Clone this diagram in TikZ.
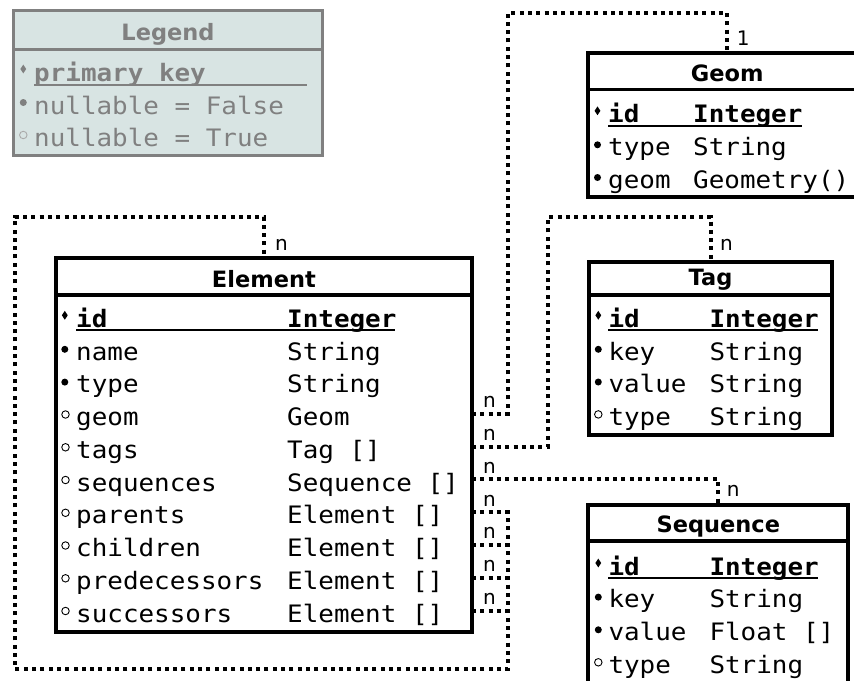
\documentclass[tikz,border=0pt]{standalone}
\usepackage{fontspec}
\usetikzlibrary{shapes.geometric}
\newfontfamily\monof[FakeStretch=1.08]{DejaVu Sans Mono}
\newfontfamily\sansf{DejaVu Sans}
\newcommand\rowtext{\monof\fontsize{24}{28}\selectfont}
\newcommand\headtext{\sansf\bfseries\fontsize{22.5}{27}\selectfont}
\newcommand\cardtext{\sansf\fontsize{20}{24}\selectfont}
\definecolor{legendgray}{RGB}{128,128,128}
\definecolor{legendlight}{RGB}{170,170,170}
\definecolor{legendfill}{RGB}{216,228,227}

\begin{document}
\begin{tikzpicture}[x=1pt,y=-1pt,
  frame/.style={draw, line width=4pt, inner sep=0pt, outer sep=0pt},
  divider/.style={line width=3.5pt},
  keyline/.style={line width=1.8pt},
  fk/.style={line width=4pt, dash pattern=on 4pt off 4.3pt},
  cell/.style={anchor=base west, inner sep=0pt, font=\rowtext},
  keycell/.style={cell, font=\rowtext\bfseries},
  head/.style={anchor=base, inner sep=0pt, font=\headtext},
  card/.style={anchor=base west, inner sep=0pt, font=\cardtext},
  pkmark/.style={diamond, fill, inner sep=0pt, minimum width=6pt, minimum height=9pt},
  reqmark/.style={circle, fill, inner sep=0pt, minimum size=7pt},
  optmark/.style={circle, draw, line width=0.9pt, inner sep=0pt, minimum size=7.5pt},
]
\useasboundingbox (0,0) rectangle (854,680);

% ---------------- Legend ----------------
\node[frame, draw=legendgray, line width=3.5pt, fill=legendfill,
      minimum width=309.4pt, minimum height=145pt] (legend) at (168,83.2) {};
\draw[divider, legendgray] (legend.west |- 0,49.5) -- (legend.east |- 0,49.5);
\node[head, text=legendgray] (lg-title) at (168,40) {Legend};
\node[pkmark, legendgray] (lg-pk) at (23.3,69) {};
\node[keycell, text=legendgray] (lg-pk-t) at (34,81.5) {primary key};
\draw[keyline, legendgray] (34,85) -- (307,85);
\node[reqmark, legendgray] (lg-req) at (23.3,102.5) {};
\node[cell, text=legendgray] (lg-req-t) at (34,114) {nullable = False};
\node[optmark, legendlight] (lg-opt) at (23.3,135) {};
\node[cell, text=legendgray] (lg-opt-t) at (34,146.5) {nullable = True};

% ---------------- Geom ----------------
\node[frame, minimum width=277.7pt, minimum height=144pt] (geom) at (727.15,124.7) {};
\draw[divider] (geom.west |- 0,89.3) -- (geom.east |- 0,89.3);
\node[head] (geom-title) at (727.15,81) {Geom};
\node[pkmark] (geom-m1) at (597.5,110.8) {};
\node[keycell] (geom-id) at (608,122.8) {id};
\node[keycell] (geom-id-t) at (693,122.8) {Integer};
\draw[keyline] (608,126) -- (801.7,126);
\node[reqmark] (geom-m2) at (597.5,144.8) {};
\node[cell] (geom-type) at (608,155.5) {type};
\node[cell] (geom-type-t) at (693,155.5) {String};
\node[reqmark] (geom-m3) at (597.5,177.5) {};
\node[cell] (geom-geom) at (608,188.2) {geom};
\node[cell] (geom-geom-t) at (693,188.2) {Geometry()};

% ---------------- Tag ----------------
\node[frame, minimum width=242.4pt, minimum height=173.5pt] (tag) at (710.5,348.5) {};
\draw[divider] (tag.west |- 0,295) -- (tag.east |- 0,295);
\node[head] (tag-title) at (710.5,285.5) {Tag};
\node[pkmark] (tag-m1) at (598.3,315.3) {};
\node[keycell] (tag-id) at (608.3,327.3) {id};
\node[keycell] (tag-id-t) at (709.3,327.3) {Integer};
\draw[keyline] (608.3,330.3) -- (817.7,330.3);
\node[reqmark] (tag-m2) at (598.3,349.3) {};
\node[cell] (tag-key) at (608.3,360) {key};
\node[cell] (tag-key-t) at (709.3,360) {String};
\node[reqmark] (tag-m3) at (598.3,382) {};
\node[cell] (tag-value) at (608.3,392.7) {value};
\node[cell] (tag-value-t) at (709.3,392.7) {String};
\node[optmark] (tag-m4) at (598.3,414.4) {};
\node[cell] (tag-type) at (608.3,425.4) {type};
\node[cell] (tag-type-t) at (709.3,425.4) {String};

% ---------------- Sequence ----------------
\node[frame, minimum width=260pt, minimum height=200pt] (sequence) at (718.3,605) {};
\draw[divider] (sequence.west |- 0,541) -- (sequence.east |- 0,541);
\node[head] (seq-title) at (718.3,532.5) {Sequence};
\node[pkmark] (seq-m1) at (598.3,563) {};
\node[keycell] (seq-id) at (608.3,575) {id};
\node[keycell] (seq-id-t) at (709.3,575) {Integer};
\draw[keyline] (608.3,578) -- (817.7,578);
\node[reqmark] (seq-m2) at (598.3,597.1) {};
\node[cell] (seq-key) at (608.3,607.8) {key};
\node[cell] (seq-key-t) at (709.3,607.8) {String};
\node[reqmark] (seq-m3) at (598.3,629.8) {};
\node[cell] (seq-value) at (608.3,640.5) {value};
\node[cell] (seq-value-t) at (709.3,640.5) {Float []};
\node[optmark] (seq-m4) at (598.3,662.3) {};
\node[cell] (seq-type) at (608.3,673.3) {type};
\node[cell] (seq-type-t) at (709.3,673.3) {String};

% ---------------- Element ----------------
\node[frame, minimum width=416.3pt, minimum height=374pt] (element) at (263.9,445.3) {};
\draw[divider] (element.west |- 0,295) -- (element.east |- 0,295);
\node[head] (el-title) at (263.9,287) {Element};
\node[pkmark] (el-m0) at (64.8,315.3) {};
\node[keycell] (el-id) at (76,327.3) {id};
\node[keycell] (el-id-t) at (287,327.3) {Integer};
\draw[keyline] (76,330.3) -- (395,330.3);
\node[reqmark] (el-m1) at (64.8,349.3) {};
\node[cell] (el-name) at (76,360.05) {name};
\node[cell] (el-name-t) at (287,360.05) {String};
\node[reqmark] (el-m2) at (64.8,382.1) {};
\node[cell] (el-type) at (76,392.8) {type};
\node[cell] (el-type-t) at (287,392.8) {String};
\node[optmark] (el-m3) at (65.5,414.5) {};
\node[cell] (el-geom) at (76,425.55) {geom};
\node[cell] (el-geom-t) at (287,425.55) {Geom};
\node[optmark] (el-m4) at (65.5,447.3) {};
\node[cell] (el-tags) at (76,458.3) {tags};
\node[cell] (el-tags-t) at (287,458.3) {Tag []};
\node[optmark] (el-m5) at (65.5,480) {};
\node[cell] (el-seqs) at (76,491.05) {sequences};
\node[cell] (el-seqs-t) at (287,491.05) {Sequence []};
\node[optmark] (el-m6) at (65.5,512.8) {};
\node[cell] (el-parents) at (76,523.8) {parents};
\node[cell] (el-parents-t) at (287,523.8) {Element []};
\node[optmark] (el-m7) at (65.5,545.5) {};
\node[cell] (el-children) at (76,556.55) {children};
\node[cell] (el-children-t) at (287,556.55) {Element []};
\node[optmark] (el-m8) at (65.5,578.3) {};
\node[cell] (el-pred) at (76,589.3) {predecessors};
\node[cell] (el-pred-t) at (287,589.3) {Element []};
\node[optmark] (el-m9) at (65.5,611) {};
\node[cell] (el-succ) at (76,622.05) {successors};
\node[cell] (el-succ-t) at (287,622.05) {Element []};

% ports on the right side of Element, one per relation row
\coordinate (p-geom) at (element.east |- 0,413.5);
\coordinate (p-tags) at (element.east |- 0,446.5);
\coordinate (p-seqs) at (element.east |- 0,479.3);
\coordinate (p-parents) at (element.east |- 0,512.3);
\coordinate (p-children) at (element.east |- 0,545);
\coordinate (p-pred) at (element.east |- 0,577.8);
\coordinate (p-succ) at (element.east |- 0,610.5);

% bends of the relation lines
\coordinate (geom-bend) at (507.7,13);
\coordinate (tag-bend) at (548.3,216.7);
\coordinate (loop-right) at (507.7,669);
\coordinate (loop-left) at (15,216.7);

% ---------------- relations ----------------
\draw[fk] (p-geom) -| (geom-bend) -| (geom.north);
\draw[fk] (p-tags) -| (tag-bend) -| (tag.north);
\draw[fk] (p-seqs) -| (sequence.north);
\draw[fk] (p-parents) -| (loop-right) -| (loop-left) -| (element.north);
\draw[fk] (p-children) -- (p-children -| loop-right);
\draw[fk] (p-pred) -- (p-pred -| loop-right);
\draw[fk] (p-succ) -- (p-succ -| loop-right);

% ---------------- multiplicities ----------------
\node[card] (c-geom-1) at (736.7,45) {1};
\node[card] (c-tag-n) at (720,250) {n};
\node[card] (c-seq-n) at (726.7,496.7) {n};
\node[card] (c-el-n) at (275,250) {n};
\node[card] (c-p-geom) at (483,407) {n};
\node[card] (c-p-tags) at (483,440) {n};
\node[card] (c-p-seqs) at (483,473) {n};
\node[card] (c-p-parents) at (483,506) {n};
\node[card] (c-p-children) at (483,538.7) {n};
\node[card] (c-p-pred) at (483,571.5) {n};
\node[card] (c-p-succ) at (483,604.2) {n};
\end{tikzpicture}
\end{document}
